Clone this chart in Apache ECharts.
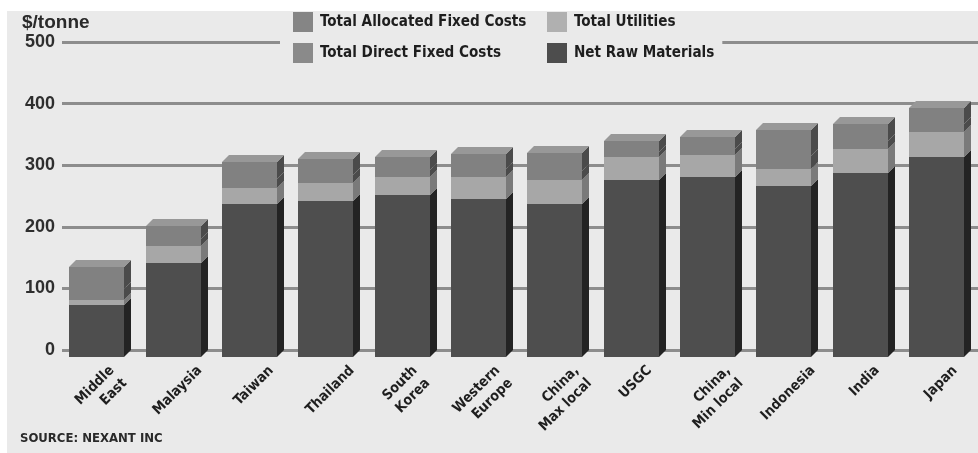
<!DOCTYPE html>
<html><head><meta charset="utf-8">
<script src="https://cdn.jsdelivr.net/npm/echarts@6/dist/echarts.min.js"></script>
<style>
html,body{margin:0;padding:0;background:#ffffff;width:978px;height:453px;overflow:hidden}
#c{position:absolute;left:7px;top:11px;width:971px;height:442px}
</style></head>
<body><div id="c"></div>
<script>
// ---- data ($/tonne) ----
const categories = ['Middle\nEast','Malaysia','Taiwan','Thailand','South\nKorea','Western\nEurope','China,\nMax local','USGC','China,\nMin local','Indonesia','India','Japan'];
const netRawMaterials          = [84, 153, 249, 253, 263, 256, 249, 287, 292, 278, 298, 325];
const totalUtilities           = [ 9,  27,  26,  29,  29,  36,  39,  37,  36,  27,  39,  41];
const totalDirectFixedCosts    = [18,  11,  14,  13,  11,  13,  14,   9,  10,  21,  14,  13];
const totalAllocatedFixedCosts = [35,  22,  27,  26,  21,  25,  29,  18,  19,  42,  28,  25];
const yTicks = [0, 100, 200, 300, 400, 500];
const yTitle = '$/tonne';
const sourceText = 'SOURCE: NEXANT INC';

// ---- font selection (condensed if installed, else Liberation Sans) ----
const mctx = document.createElement('canvas').getContext('2d');
function hasFont(name) {
  const probe = 'Total Allocated Fixed Costs 0123';
  mctx.font = 'bold 20px monospace';
  const a = mctx.measureText(probe).width;
  mctx.font = 'bold 20px "' + name + '", monospace';
  const b = mctx.measureText(probe).width;
  return Math.abs(a - b) > 0.5;
}
let FONT = 'Liberation Sans';
for (const f of ['Liberation Sans Narrow', 'DejaVu Sans Condensed', 'Roboto Condensed']) {
  if (hasFont(f)) { FONT = f; break; }
}
function fitSize(text, width) {
  mctx.font = 'bold 100px "' + FONT + '"';
  return Math.round(100 * width / mctx.measureText(text).width * 10) / 10;
}
const LEG_SIZE = fitSize('Total Allocated Fixed Costs', 206);
const LBL_SIZE = fitSize('Malaysia', 63);
const SRC_SIZE = fitSize(sourceText, 143);
const FONT_REG = 'Liberation Sans';
const LBL_LH = 18;

// ---- styles ----
const BG = '#eaeaea';
const segs = [
  {name:'Net Raw Materials',          values:netRawMaterials,          front:'#4e4e4e', side:'#232323', legend:'#4d4d4d'},
  {name:'Total Utilities',            values:totalUtilities,           front:'#a7a7a7', side:'#7a7a7a', legend:'#b0b0b0'},
  {name:'Total Direct Fixed Costs',   values:totalDirectFixedCosts,    front:'#818181', side:'#4b4b4b', legend:'#8a8a8a'},
  {name:'Total Allocated Fixed Costs',values:totalAllocatedFixedCosts, front:'#818181', side:'#4b4b4b', legend:'#858585'}
];
const TOP_FACE = '#989898';

// stacked bases built from the arrays
const cum = categories.map(() => 0);
const segData = segs.map(s => s.values.map((v, i) => { const b = cum[i]; cum[i] += v; return [i, b, cum[i]]; }));

function makeRender(seg, isTop) {
  return function (params, api) {
    const i = api.value(0);
    const b = api.coord([i, api.value(1)]);
    const t = api.coord([i, api.value(2)]);
    const bw = api.size([1, 0])[0];
    const cx = b[0];
    const fw = Math.round(bw * 0.72), dx = 7, dy = 7;
    const x0 = Math.round(cx - fw / 2 - 3.5), x1 = x0 + fw;
    const yb = Math.round(b[1]), yt = Math.round(t[1]);
    const ch = [
      {type:'polygon', shape:{points:[[x1, yt + dy], [x1 + dx, yt], [x1 + dx, yb], [x1, yb + dy]]}, style:{fill:seg.side}},
      {type:'rect', shape:{x:x0, y:yt + dy, width:fw, height:yb - yt}, style:{fill:seg.front}}
    ];
    if (isTop) ch.push({type:'polygon', shape:{points:[[x0, yt + dy], [x0 + dx, yt], [x1 + dx, yt], [x1, yt + dy]]}, style:{fill:TOP_FACE}});
    return {type:'group', children:ch};
  };
}

function textWidth(s) {
  mctx.font = 'bold ' + LBL_SIZE + 'px "' + FONT + '"';
  return Math.max(...s.split('\n').map(l => mctx.measureText(l).width));
}

const series = segs.map((s, k) => ({
  type:'custom', name:s.name, xAxisIndex:0, yAxisIndex:0,
  itemStyle:{color:s.legend},
  renderItem:makeRender(s, k === segs.length - 1),
  encode:{x:0, y:[1, 2]},
  data:segData[k], z:2, silent:true
}));

// rotated category labels, centred under each bar as in the reference
series.push({
  type:'custom', name:'labels', silent:true, z:3,
  data:categories.map((c, i) => [i, 0]),
  encode:{x:0, y:1},
  renderItem:function (params, api) {
    const i = api.value(0);
    const p = api.coord([i, 0]);
    const txt = categories[i];
    const L = textWidth(txt);
    const H = txt.split('\n').length * LBL_LH;
    const yTop = p[1] + 12;
    return {
      type:'text', x:p[0] + 1 + L * 0.354, y:yTop + H * 0.354, rotation:Math.PI / 4,
      style:{text:txt, align:'right', verticalAlign:'middle', fill:'#1e1e1e',
             fontSize:LBL_SIZE, fontWeight:'bold', fontFamily:FONT, lineHeight:LBL_LH}
    };
  }
});

const legendText = {fontSize:LEG_SIZE, fontWeight:'bold', fontFamily:FONT, color:'#1e1e1e', padding:[0,0,0,2]};
const chart = echarts.init(document.getElementById('c'), null, {renderer:'canvas'});
chart.setOption({
  backgroundColor:BG,
  animation:false,
  title:[
    {text:yTitle, left:15, top:2, padding:0, textStyle:{fontSize:19, fontWeight:'bold', fontFamily:FONT_REG, color:'#2a2a2a'}},
    {text:sourceText, left:13, top:421, padding:0, textStyle:{fontSize:SRC_SIZE, fontWeight:'bold', fontFamily:FONT, color:'#2a2a2a'}}
  ],
  legend:[
    {data:['Total Allocated Fixed Costs','Total Direct Fixed Costs'], orient:'vertical', left:273, top:0,
     padding:[1,14,2,13], itemWidth:20, itemHeight:20, itemGap:11, icon:'rect', backgroundColor:BG,
     selectedMode:false, textStyle:legendText},
    {data:['Total Utilities','Net Raw Materials'], orient:'vertical', left:530, top:0,
     padding:[1,8,2,10], itemWidth:20, itemHeight:20, itemGap:11, icon:'rect', backgroundColor:BG,
     selectedMode:false, textStyle:legendText}
  ],
  grid:{left:55, right:0, top:31, bottom:103, containLabel:false},
  xAxis:{type:'category', data:categories, boundaryGap:true,
         axisLine:{show:false}, axisTick:{show:false}, axisLabel:{show:false}, splitLine:{show:false}},
  yAxis:{type:'value', min:yTicks[0], max:yTicks[yTicks.length - 1], interval:yTicks[1] - yTicks[0],
         axisLine:{show:false}, axisTick:{show:false},
         axisLabel:{margin:7, fontSize:18, fontWeight:'bold', fontFamily:FONT_REG, color:'#2e2e2e'},
         splitLine:{show:true, lineStyle:{color:'#8d8d8d', width:3}}},
  series:series
});
</script></body></html>
